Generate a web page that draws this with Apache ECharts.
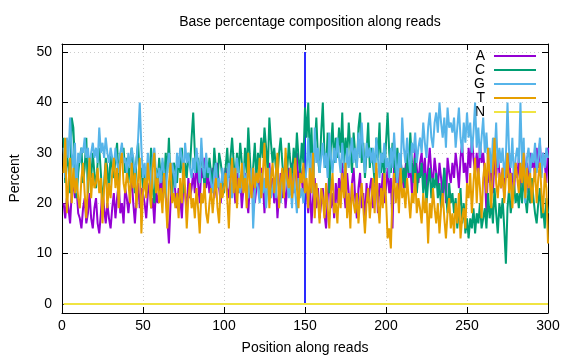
<!DOCTYPE html>
<html>
<head>
<meta charset="utf-8">
<script src="https://cdn.jsdelivr.net/npm/echarts@6/dist/echarts.min.js"></script>
<style>html,body{margin:0;padding:0;background:#fff}#c{width:576px;height:360px}</style>
</head>
<body>
<div id="c"></div>
<script>
const title = 'Base percentage composition along reads';
const seriesNames = ['A', 'C', 'G', 'T', 'N'];
const xTicks = [0, 50, 100, 150, 200, 250, 300];
const yTicks = [0, 10, 20, 30, 40, 50];
const markerPos = [150, 150];
const markerVal = [0, 50];

const A = [
20,17,21,19,16,22,24,21,23,18, 17,15,19,21,16,18,22,17,15,19,
21,16,14,18,23,19,16,20,17,15, 19,22,17,21,24,18,20,16,23,21,
18,22,25,20,16,21,24,19,23,22, 20,17,22,24,19,21,16,23,20,22,
25,21,27,23,17,12,20,24,26,22, 19,23,21,17,24,22,18,25,21,23,
26,22,28,24,20,27,25,29,23,26, 22,25,27,21,24,28,23,20,26,24,
27,23,21,25,28,24,20,26,22,25, 19,23,26,21,18,24,22,27,20,23,
25,21,27,24,18,26,23,28,22,25, 20,24,17,22,26,21,25,19,23,27,
24,28,22,26,30,23,27,25,21,26, 22,18,24,16,21,25,19,23,17,20,
23,18,15,21,26,19,22,17,24,20, 25,21,28,23,19,26,22,18,24,27,
21,17,23,26,19,22,16,24,20,23, 25,19,22,27,18,24,21,26,20,23,
27,22,25,15,28,24,26,21,29,25, 23,27,30,25,28,22,26,31,27,24,
28,30,25,29,22,27,31,26,24,29, 26,23,28,25,21,27,20,29,26,24,
28,25,30,27,23,29,32,26,28,24, 31,27,33,29,26,30,25,32,28,30,
26,18,28,24,27,22,29,25,30,26, 23,27,21,28,25,30,24,26,22,28,
25,29,23,27,31,26,28,22,30,27, 29,25,31,27,32,26,30,28,24,31
];
const C = [
33,24,30,27,22,37,35,28,21,26, 29,31,24,27,33,22,28,25,30,26,
23,28,31,26,20,24,29,27,22,30, 27,25,29,32,24,30,28,31,26,29,
24,28,31,26,22,29,32,25,27,23, 26,22,28,25,31,23,20,27,24,29,
25,28,23,30,26,33,24,21,28,27, 24,29,26,31,22,28,25,30,27,33,
38,30,26,29,24,31,27,23,28,25, 29,26,23,31,27,24,30,28,25,22,
27,31,25,29,33,28,24,30,26,32, 28,24,31,26,35,29,23,27,32,25,
30,27,33,29,35,31,26,37,32,28, 31,27,25,30,33,28,24,29,26,32,
28,25,31,27,34,29,26,32,28,39, 33,40,28,35,24,31,37,29,26,34,
40,30,27,34,22,31,36,28,33,29, 35,30,38,27,33,29,36,31,26,34,
30,27,35,38,28,32,25,30,36,27, 31,28,24,33,29,36,26,30,25,32,
38,30,26,32,28,25,31,27,29,24, 27,23,30,26,34,28,24,29,22,26,
25,28,22,26,20,24,27,21,25,23, 26,21,24,19,23,27,22,18,24,20,
22,18,21,15,19,23,16,20,14,17, 13,17,15,19,14,18,16,20,15,17,
19,15,22,17,20,16,23,18,14,20, 17,21,15,8,19,23,18,21,24,20,
22,19,24,20,26,21,18,23,20,25, 21,18,16,20,23,17,19,15,21,18
];
const G = [
31,25,33,29,37,30,27,32,22,30, 28,31,30,33,29,31,27,30,32,29,
31,28,35,30,32,29,33,30,28,31, 29,27,31,28,26,30,32,28,29,26,
30,27,31,29,26,28,33,40,31,25, 28,24,30,27,22,29,31,26,25,27,
24,29,26,21,27,30,25,28,26,23, 30,27,31,29,26,32,28,30,27,25,
29,26,31,28,24,33,27,25,30,26, 27,24,22,26,28,23,25,21,27,24,
26,23,28,25,21,27,24,29,26,22, 25,28,23,26,21,24,27,15,22,25,
23,20,26,22,25,19,24,27,21,23, 25,21,27,23,20,26,22,28,24,21,
24,19,26,22,18,25,21,23,20,24, 27,33,25,30,22,35,28,31,26,29,
32,27,30,25,34,29,26,31,28,33, 29,26,32,28,24,31,27,30,33,28,
31,27,34,29,36,30,26,32,29,31, 28,31,26,33,29,25,30,28,32,27,
29,25,31,27,34,28,24,30,26,37, 31,28,33,29,26,32,30,34,28,31,
33,30,36,32,29,35,38,33,31,36, 38,34,40,36,33,37,31,39,35,36,
34,37,31,35,39,33,30,36,32,38, 33,36,30,34,40,31,35,29,33,37,
30,34,28,31,26,33,29,36,27,31, 28,31,25,29,40,30,27,33,24,29,
31,28,40,27,33,20,29,31,26,30, 28,32,26,29,33,25,30,27,31,29
];
const T = [
26,33,18,24,29,20,27,22,25,21, 19,25,28,22,17,24,29,21,26,23,
24,27,22,25,16,23,28,19,24,21, 26,29,23,27,19,28,30,24,22,26,
24,20,28,23,26,19,25,29,14,22, 25,21,28,24,19,27,30,22,25,20,
23,18,26,21,15,24,28,20,22,19, 22,17,25,20,28,23,15,21,24,19,
21,17,23,19,14,22,20,24,18,16, 20,23,18,22,25,19,16,24,21,23,
26,21,15,24,29,22,27,19,25,23, 28,22,25,19,30,24,21,27,23,26,
24,29,21,26,32,23,27,19,25,28, 22,26,30,19,24,27,21,31,25,23,
27,21,25,29,23,19,26,24,28,22, 25,19,27,22,30,17,24,21,16,23,
21,17,24,19,15,22,26,18,20,16, 23,19,26,21,28,17,22,15,24,20,
18,22,16,21,24,19,14,20,23,17, 21,25,18,28,20,16,23,19,26,21,
13,15,11,22,26,20,24,18,27,21, 23,19,25,21,17,22,20,26,18,21,
19,16,22,18,21,12,20,17,23,19, 16,20,14,19,22,17,13,18,21,15,
18,14,20,16,22,13,17,19,15,24, 21,26,18,24,29,20,27,23,17,25,
28,22,31,25,19,27,33,24,21,26, 23,27,20,25,30,22,26,19,24,28,
25,22,28,24,30,21,27,23,26,20, 24,27,20,25,28,22,18,26,23,12
];
const N = [
0,0,0,0,0,0,0,0,0,0, 0,0,0,0,0,0,0,0,0,0, 0,0,0,0,0,0,0,0,0,0,
0,0,0,0,0,0,0,0,0,0, 0,0,0,0,0,0,0,0,0,0, 0,0,0,0,0,0,0,0,0,0,
0,0,0,0,0,0,0,0,0,0, 0,0,0,0,0,0,0,0,0,0, 0,0,0,0,0,0,0,0,0,0,
0,0,0,0,0,0,0,0,0,0, 0,0,0,0,0,0,0,0,0,0, 0,0,0,0,0,0,0,0,0,0,
0,0,0,0,0,0,0,0,0,0, 0,0,0,0,0,0,0,0,0,0, 0,0,0,0,0,0,0,0,0,0,
0,0,0,0,0,0,0,0,0,0, 0,0,0,0,0,0,0,0,0,0, 0,0,0,0,0,0,0,0,0,0,
0,0,0,0,0,0,0,0,0,0, 0,0,0,0,0,0,0,0,0,0, 0,0,0,0,0,0,0,0,0,0,
0,0,0,0,0,0,0,0,0,0, 0,0,0,0,0,0,0,0,0,0, 0,0,0,0,0,0,0,0,0,0,
0,0,0,0,0,0,0,0,0,0, 0,0,0,0,0,0,0,0,0,0, 0,0,0,0,0,0,0,0,0,0,
0,0,0,0,0,0,0,0,0,0, 0,0,0,0,0,0,0,0,0,0, 0,0,0,0,0,0,0,0,0,0
];
const positions = A.map((_, i) => i + 1);

const colors = ['#9400d3', '#009e73', '#56b4e9', '#e69f00', '#f0e442'];
const values = [A, C, G, T, N];
const FONT = '"Liberation Sans", Arial, sans-serif';

const chart = echarts.init(document.getElementById('c'), null, {renderer: 'canvas'});

const series = seriesNames.map((name, k) => ({
  name: name,
  type: 'line',
  data: positions.map((p, i) => [p, values[k][i]]),
  showSymbol: false,
  symbol: 'none',
  lineStyle: {color: colors[k], width: 2},
  itemStyle: {color: colors[k]},
  animation: false,
  z: 2 + k
}));
series.splice(0, 0, {
  name: 'marker',
  type: 'line',
  data: markerPos.map((p, i) => [p, markerVal[i]]),
  symbol: 'none',
  lineStyle: {color: '#2a2aff', width: 2},
  animation: false,
  z: 1
});

const axisCommon = {
  axisLine: {show: true, onZero: false, lineStyle: {color: '#000', width: 1}},
  axisTick: {show: true, inside: true, length: 6, lineStyle: {color: '#000'}},
  splitLine: {show: false}
};

chart.setOption({
  animation: false,
  backgroundColor: '#fff',
  title: {
    text: title, left: 305, top: 10, textAlign: 'center',
    textStyle: {fontFamily: FONT, fontSize: 14, fontWeight: 'normal', color: '#000'}
  },
  legend: {
    data: seriesNames,
    orient: 'vertical',
    left: 468, top: 44,
    align: 'right',
    itemWidth: 42, itemHeight: 2,
    itemGap: 0,
    icon: 'rect',
    textStyle: {fontFamily: FONT, fontSize: 14, color: '#000', width: 12, align: 'right', padding: [0, 4, 0, 0], lineHeight: 14}
  },
  grid: {left: 62, right: 28, top: 44, bottom: 46, containLabel: false},
  xAxis: [
    Object.assign({}, axisCommon, {
      type: 'value', min: 0, max: 300, interval: 50, position: 'bottom',
      name: 'Position along reads', nameLocation: 'middle', nameGap: 28,
      nameTextStyle: {fontFamily: FONT, fontSize: 14, color: '#000'},
      axisLabel: {fontFamily: FONT, fontSize: 14, color: '#000', margin: 6},
      splitLine: {show: true, lineStyle: {color: '#cccccc', type: [1, 3], width: 1}}
    }),
    Object.assign({}, axisCommon, {
      type: 'value', min: 0, max: 300, interval: 50, position: 'top',
      axisLabel: {show: false}
    })
  ],
  yAxis: [
    Object.assign({}, axisCommon, {
      type: 'value', min: -1.8, max: 51.6, position: 'left',
      name: 'Percent', nameLocation: 'middle', nameGap: 40, nameRotate: 90,
      nameTextStyle: {fontFamily: FONT, fontSize: 14, color: '#000'},
      axisTick: {show: true, inside: true, length: 6, lineStyle: {color: '#000'}, customValues: yTicks},
      axisLabel: {fontFamily: FONT, fontSize: 14, color: '#000', margin: 10, customValues: yTicks},
      splitLine: {show: true, lineStyle: {color: '#cccccc', type: [1, 3], width: 1}}
    }),
    Object.assign({}, axisCommon, {
      type: 'value', min: -1.8, max: 51.6, position: 'right',
      axisTick: {show: true, inside: true, length: 6, lineStyle: {color: '#000'}, customValues: yTicks},
      axisLabel: {show: false, customValues: yTicks}
    })
  ],
  series: series
});
</script>
</body>
</html>
